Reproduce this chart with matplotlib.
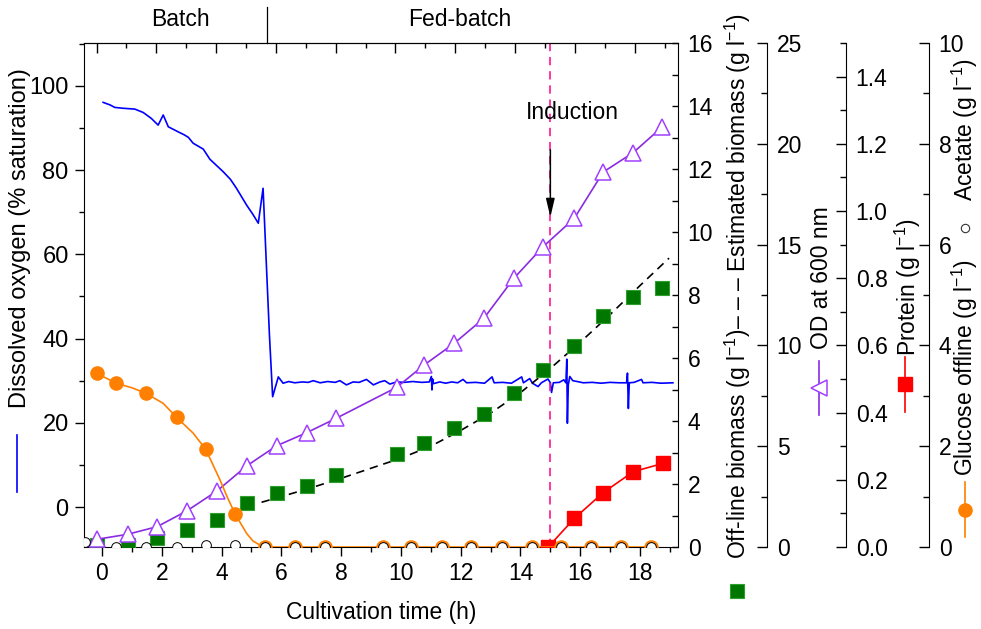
import numpy as np
import matplotlib
matplotlib.use("Agg")
import matplotlib.pyplot as plt
from matplotlib.lines import Line2D
from matplotlib.ticker import MultipleLocator, FormatStrFormatter

plt.rcParams["font.family"] = ["Liberation Sans", "DejaVu Sans"]
plt.rcParams["mathtext.fontset"] = "custom"
plt.rcParams["mathtext.rm"] = "Liberation Sans"
plt.rcParams["mathtext.default"] = "regular"

# dissolved oxygen, on-line probe (% saturation)
do_time = [0.04, 0.27, 0.43, 0.71, 1.10, 1.38, 1.65, 1.88, 2.05, 2.22, 2.55, 2.75, 2.89,
           3.05, 3.39, 3.61, 3.85, 4.06, 4.30, 4.50, 4.84, 5.05, 5.23, 5.39, 5.60, 5.71,
           5.90, 6.06, 6.25, 6.45, 6.70, 6.90, 7.07, 7.30, 7.55, 7.80, 7.96, 8.18, 8.40,
           8.60, 8.85, 9.08, 9.30, 9.46, 9.63, 9.85, 10.10, 10.40, 10.70, 10.95, 11.02,
           11.04, 11.06, 11.09, 11.30, 11.50, 11.70, 11.90, 12.08, 12.20, 12.50, 12.80,
           13.05, 13.12, 13.40, 13.70, 14.04, 14.10, 14.31, 14.40, 14.59, 14.70, 14.92,
           15.00, 15.04, 15.10, 15.30, 15.45, 15.52, 15.55, 15.57, 15.60, 15.65, 15.75,
           15.90, 16.10, 16.40, 16.70, 17.00, 17.30, 17.55, 17.58, 17.61, 17.64, 17.80,
           18.05, 18.10, 18.40, 18.70, 19.10]
do_value = [96.1, 95.5, 94.9, 94.7, 94.5, 93.7, 92.3, 90.7, 93.1, 90.3, 89.1, 88.4, 87.8,
            86.4, 85.0, 82.6, 81.0, 79.6, 77.8, 75.7, 71.7, 69.5, 67.4, 75.7, 41.3, 26.2,
            30.9, 29.4, 29.8, 29.5, 29.7, 29.6, 30.0, 29.5, 29.8, 29.6, 30.0, 29.0, 29.7,
            29.6, 30.3, 29.0, 29.7, 30.0, 29.2, 29.7, 29.6, 29.8, 29.6, 29.7, 31.0,
            27.8, 30.4, 29.3, 29.7, 29.4, 29.7, 29.5, 30.3, 29.5, 29.6, 29.4,
            30.9, 29.5, 29.6, 29.4, 30.9, 29.5, 30.5, 29.4, 28.6, 29.5, 30.4,
            29.5, 27.2, 29.5, 29.6, 30.2, 29.5, 35.1, 19.9, 29.0, 31.0, 30.0,
            29.8, 29.5, 29.6, 29.4, 29.6, 29.5, 29.5, 31.8, 23.4, 29.5, 29.6,
            30.3, 29.5, 29.6, 29.4, 29.5]

# off-line samples
sample_time = [-0.18, 0.86, 1.85, 2.85, 3.85, 4.84, 5.84, 6.85, 7.83, 9.86, 10.78,
               11.78, 12.78, 13.78, 14.76, 15.80, 16.77, 17.77, 18.75]
od600 = [0.38, 0.63, 1.01, 1.80, 2.78, 4.02, 5.02, 5.67, 6.38, 7.92, 9.03,
         10.10, 11.35, 13.33, 14.90, 16.30, 18.60, 19.56, 20.85]
biomass = [0.05, 0.06, 0.30, 0.54, 0.86, 1.39, 1.70, 1.95, 2.29, 2.95, 3.31,
           3.77, 4.21, 4.90, 5.62, 6.38, 7.33, 7.95, 8.21]

# estimated biomass (g/l)
est_time = [5.34, 6, 7, 8, 9, 10, 11, 12, 13, 14, 15, 16, 17, 18, 18.97]
est_biomass = [1.42, 1.60, 1.88, 2.18, 2.50, 2.82, 3.20, 3.70, 4.25, 4.90, 5.67,
               6.50, 7.38, 8.30, 9.17]

# recombinant protein (g/l)
protein_time = [14.93, 15.80, 16.77, 17.77, 18.77]
protein = [0.0, 0.085, 0.162, 0.224, 0.249]

# glucose and acetate (g/l)
ga_time = [-0.18, 0.47, 1.47, 2.50, 3.47, 4.46, 5.45, 6.45, 7.46, 9.41, 10.35,
           11.36, 12.36, 13.37, 14.37, 15.37, 16.35, 17.35, 18.36]
glucose = [3.45, 3.25, 3.05, 2.57, 1.94, 0.65, 0, 0, 0, 0, 0, 0, 0, 0, 0, 0, 0, 0, 0]
acetate_time = [-0.57] + ga_time[1:]
acetate = [0.10, 0, 0, 0, 0.03, 0.03, 0, 0, 0, 0, 0, 0, 0, 0, 0, 0, 0, 0, 0]
glc_fit_time = [-0.18, 0.47, 1.0, 1.47, 2.05, 2.5, 3.05, 3.47, 3.95, 4.2, 4.46, 4.84,
                5.05, 5.28, 5.73, 18.36]
glc_fit = [3.45, 3.25, 3.16, 3.05, 2.85, 2.57, 2.26, 1.94, 1.33, 0.98, 0.65, 0.27,
           0.12, 0.04, 0.0, 0.0]

W_PX, H_PX = 981, 629


def fx(px):
    return px / W_PX


def fy(py):
    return 1 - py / H_PX


FS = 16.5
fig = plt.figure(figsize=(9.81, 6.29), dpi=100)
ax = fig.add_axes([fx(84), fy(547), fx(678) - fx(84), fy(43) - fy(547)])

# dissolved oxygen on the host axes
ax.plot(do_time, do_value, color="#0000FF", lw=1.2)
ax.set_xlim(-0.6, 19.27)
ax.set_ylim(-9.5, 110.2)
ax.set_xticks(np.arange(0, 19, 2))
ax.xaxis.set_minor_locator(MultipleLocator(1))
ax.set_yticks(np.arange(0, 101, 20))
ax.yaxis.set_minor_locator(MultipleLocator(10))
ax.tick_params(which="both", direction="out", width=1, labelsize=FS, pad=4)
ax.tick_params(axis="y", labelsize=17, pad=4.5)
ax.tick_params(which="major", length=6.5)
ax.tick_params(which="minor", length=3.5)
ax.spines["right"].set_visible(False)
ax.set_xlabel("Cultivation time (h)", fontsize=FS, labelpad=12)

# induction marker
ax.axvline(15, color="#FF1493", ls=(0, (5, 3.5)), lw=1.2)
ax.annotate("", xy=(15, 68.2), xytext=(15, 85.5),
            arrowprops=dict(arrowstyle="-|>,head_length=0.55,head_width=0.13",
                            color="black", lw=1.1, mutation_scale=20))
ax.text(15.75, 93.6, "Induction", fontsize=FS, ha="center", va="center")

# top axis ticks (no labels)
axt = ax.twiny()
axt.set_xlim(-0.6 + 0.18, 19.27 + 0.18)
axt.set_xticks(np.arange(0, 19, 2))
axt.xaxis.set_minor_locator(MultipleLocator(1))
axt.tick_params(which="both", direction="in", width=1, labeltop=False)
axt.tick_params(which="major", length=7)
axt.tick_params(which="minor", length=3.5)
for s in ["left", "right", "bottom"]:
    axt.spines[s].set_visible(False)


def right_axis(pos):
    a = ax.twinx()
    for s in ["left", "top", "bottom"]:
        a.spines[s].set_visible(False)
    a.spines["right"].set_position(("axes", pos))
    a.tick_params(which="both", direction="in", width=1, labelsize=FS, pad=7)
    return a


# biomass
axb = right_axis(1.0)
axb.plot(est_time, est_biomass, color="black", ls=(0, (5, 3.5)), lw=1.2)
axb.plot(sample_time, biomass, ls="none", marker="s", ms=9.5,
         mfc="#007700", mec="#2E9E2E", mew=0.8)
axb.set_ylim(0, 16)
axb.set_yticks(np.arange(0, 17, 2))
axb.yaxis.set_minor_locator(MultipleLocator(1))
axb.tick_params(which="both", length=4)

# OD 600
axo = right_axis((767 - 84) / 594)
axo.plot(sample_time, od600, color="#8A2BE2", lw=1.2, marker="^", ms=11,
         mfc="white", mec="#A040FF", mew=1.1)
axo.set_ylim(0, 25)
axo.set_yticks(np.arange(0, 26, 5))
axo.yaxis.set_minor_locator(MultipleLocator(2.5))
axo.tick_params(which="major", length=7)
axo.tick_params(which="minor", length=4.5)

# protein
axp = right_axis((846 - 84) / 594)
axp.plot(protein_time, protein, color="#FF0000", lw=1.2, marker="s", ms=9.5,
         mfc="#FF0000", mec="#FF0000")
axp.set_ylim(0, 1.5)
axp.set_yticks(np.arange(0, 1.41, 0.2))
axp.yaxis.set_minor_locator(MultipleLocator(0.1))
axp.yaxis.set_major_formatter(FormatStrFormatter("%.1f"))
axp.tick_params(which="major", length=7)
axp.tick_params(which="minor", length=4.5)

# glucose and acetate
axg = right_axis((929 - 84) / 594)
axg.plot(glc_fit_time, glc_fit, color="#FF8000", lw=1.2)
axg.plot(ga_time, glucose, ls="none", marker="o", ms=9.5, mfc="#FF8000", mec="#FF8000")
axg.plot(acetate_time, acetate, ls="none", marker="o", ms=7, mfc="white",
         mec="black", mew=0.7)
axg.set_ylim(0, 10)
axg.set_yticks(np.arange(0, 11, 2))
axg.yaxis.set_minor_locator(MultipleLocator(1))
axg.tick_params(which="major", length=7)
axg.tick_params(which="minor", length=4.5)

# phase labels above the plot
fig.text(fx(180), fy(20), "Batch", fontsize=FS, ha="center", va="center")
fig.text(fx(460), fy(20), "Fed-batch", fontsize=FS, ha="center", va="center")
fig.add_artist(Line2D([fx(266.7)] * 2, [fy(7), fy(43)], color="black", lw=0.9))

# axis titles with their symbols
gl = "(g l$^{-1}$)"
fig.text(fx(20), fy(238), "Dissolved oxygen (% saturation)", fontsize=17,
         rotation=90, ha="center", va="center")
fig.add_artist(Line2D([fx(17)] * 2, [fy(435), fy(492)], color="#0000FF", lw=1.2))

fig.text(fx(738), fy(286), "Off-line biomass " + gl + "\u2013 \u2013 \u2013 Estimated biomass " + gl,
         fontsize=FS, rotation=90, ha="center", va="center")
fig.add_artist(Line2D([fx(737)], [fy(591)], ls="none", marker="s", ms=9.5,
                      mfc="#007700", mec="#2E9E2E", mew=0.8))

fig.text(fx(822), fy(278), "OD at 600 nm", fontsize=FS, rotation=90,
         ha="center", va="center")
fig.add_artist(Line2D([fx(819)] * 2, [fy(361), fy(415)], color="#8A2BE2", lw=1.2))
fig.add_artist(Line2D([fx(819)], [fy(388)], ls="none", marker="<", ms=11,
                      mfc="white", mec="#A040FF", mew=1.1))

fig.text(fx(908), fy(287), "Protein " + gl, fontsize=FS, rotation=90,
         ha="center", va="center")
fig.add_artist(Line2D([fx(905)] * 2, [fy(357), fy(412)], color="#FF0000", lw=1.2))
fig.add_artist(Line2D([fx(905)], [fy(384)], ls="none", marker="s", ms=9.5,
                      mfc="#FF0000", mec="#FF0000"))

fig.text(fx(965), fy(368), "Glucose offline " + gl, fontsize=FS, rotation=90,
         ha="center", va="center")
fig.add_artist(Line2D([fx(965)], [fy(228)], ls="none", marker="o", ms=6,
                      mfc="white", mec="#333333", mew=0.8))
fig.text(fx(965), fy(130), "Acetate " + gl, fontsize=FS, rotation=90,
         ha="center", va="center")
fig.add_artist(Line2D([fx(965)] * 2, [fy(482), fy(537)], color="#FF8000", lw=1.2))
fig.add_artist(Line2D([fx(965)], [fy(510)], ls="none", marker="o", ms=9.5,
                      mfc="#FF8000", mec="#FF8000"))

fig.savefig("out.png", dpi=100)
